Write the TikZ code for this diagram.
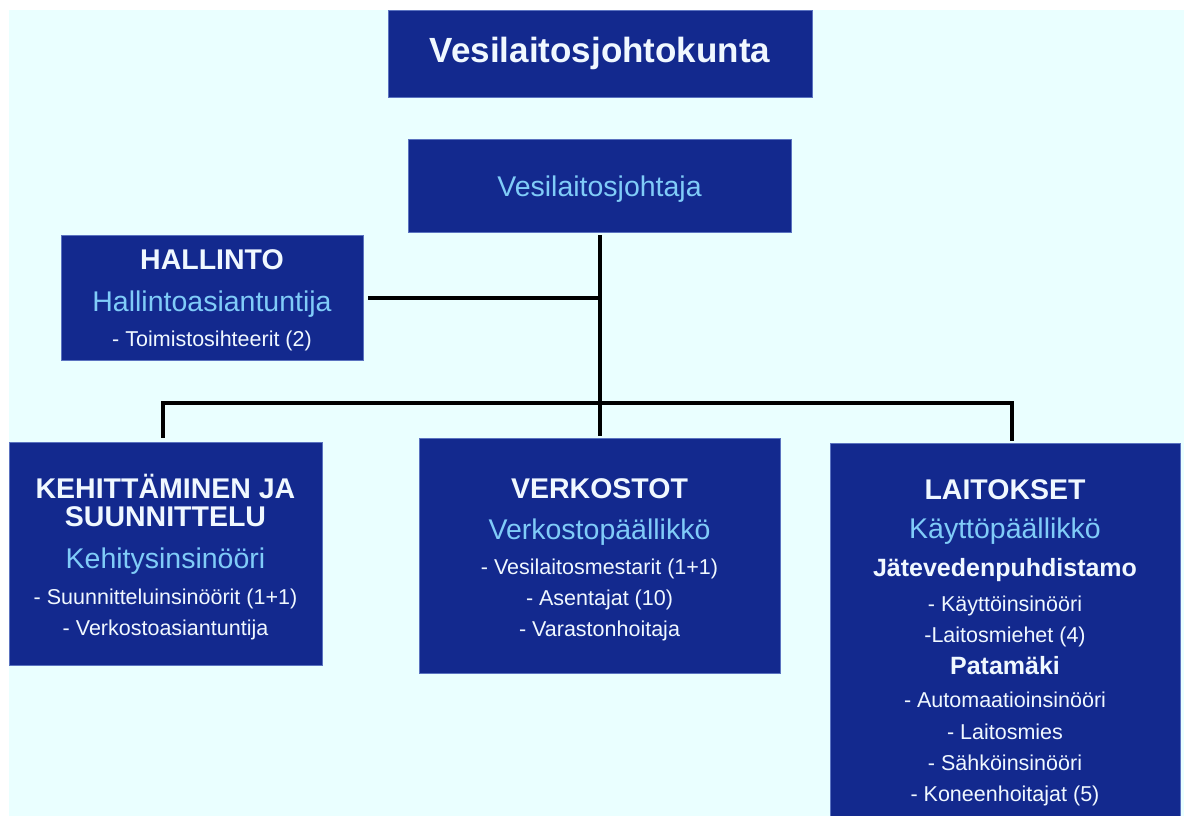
\documentclass[tikz,border=0pt]{standalone}
\usepackage{fontspec}
\setmainfont{Liberation Sans}
\usepackage{tikz}

\definecolor{bgazure}{HTML}{EAFFFF}
\definecolor{boxblue}{HTML}{13298E}
\definecolor{boxedge}{HTML}{5B73C0}
\definecolor{rolecol}{HTML}{80CCF8}
\definecolor{textwhite}{HTML}{F0F8FF}

\newcommand\boardname[1]{{\fontsize{35}{35}\selectfont\bfseries #1}}
\newcommand\unitname[1]{{\fontsize{28.5}{28.5}\selectfont\bfseries #1}}
\newcommand\rolename[1]{{\fontsize{28.5}{28.5}\selectfont\color{rolecol}#1}}
\newcommand\sitename[1]{{\fontsize{25}{25}\selectfont\bfseries #1}}
\newcommand\lift[1]{\rule{0pt}{#1}}

\begin{document}
\begin{tikzpicture}[x=1pt, y=-1pt,
	unit/.style = {shape=rectangle, fill=boxblue, draw=boxedge,
		line width=0.8pt, inner sep=0pt, align=center, text=textwhite,
		font=\fontsize{21.5}{31}\selectfont},
	link/.style = {line width=4pt, black}]
	\path[use as bounding box, clip] (0,0) rectangle (1184,816);
	\fill[white] (0,0) rectangle (1184,816);
	\fill[bgazure] (9,10) rectangle (1184,816);
	\node[unit, minimum width=424pt, minimum height=87pt] (board) at (600,53.5)
		{\boardname{Vesilaitosjohtokunta}};
	\node[unit, minimum width=383pt, minimum height=93pt] (director) at (599.5,185.5)
		{\lift{27pt}\rolename{Vesilaitosjohtaja}};
	\node[unit, minimum width=302pt, minimum height=125pt] (admin) at (212,297.5)
		{\lift{25pt}\unitname{HALLINTO}\\[11pt] \rolename{Hallintoasiantuntija}\\[4pt]
		- Toimistosihteerit (2)};
	\node[unit, minimum width=313pt, minimum height=223pt] (devel) at (165.5,553.5)
		{\lift{31pt}\unitname{KEHITTÄMINEN JA}\\[-3pt] \unitname{SUUNNITTELU}\\[11pt]
		\rolename{Kehitysinsinööri}\\[5pt] - Suunnitteluinsinöörit (1+1)\\
		- Verkostoasiantuntija};
	\node[unit, minimum width=361pt, minimum height=235pt] (networks) at (599.5,555.5)
		{\lift{29pt}\unitname{VERKOSTOT}\\[10pt] \rolename{Verkostopäällikkö}\\[4pt]
		- Vesilaitosmestarit (1+1)\\ - Asentajat (10)\\ - Varastonhoitaja};
	\node[unit, minimum width=350pt, minimum height=400pt] (plants) at (1005,643)
		{\unitname{LAITOKSET}\\[8pt] \rolename{Käyttöpäällikkö}\\[7pt]
		\sitename{Jätevedenpuhdistamo}\\[4pt] - Käyttöinsinööri\\
		-Laitosmiehet (4)\\[1pt] \sitename{Patamäki}\\[2pt]
		- Automaatioinsinööri\\[1pt] - Laitosmies\\ - Sähköinsinööri\\
		- Koneenhoitajat (5)};
	\coordinate (bar) at (600,403);
	\draw[link, shorten <=3pt, shorten >=2pt] (director.south) -- (networks.north);
	\draw[link, shorten <=5pt] (admin.east) -- (admin.east -| director.south);
	\draw[link, shorten <=4pt, shorten >=2pt] ([xshift=-2.5pt]devel.north) |- (bar)
		-| ([xshift=7pt]plants.north);
\end{tikzpicture}
\end{document}
